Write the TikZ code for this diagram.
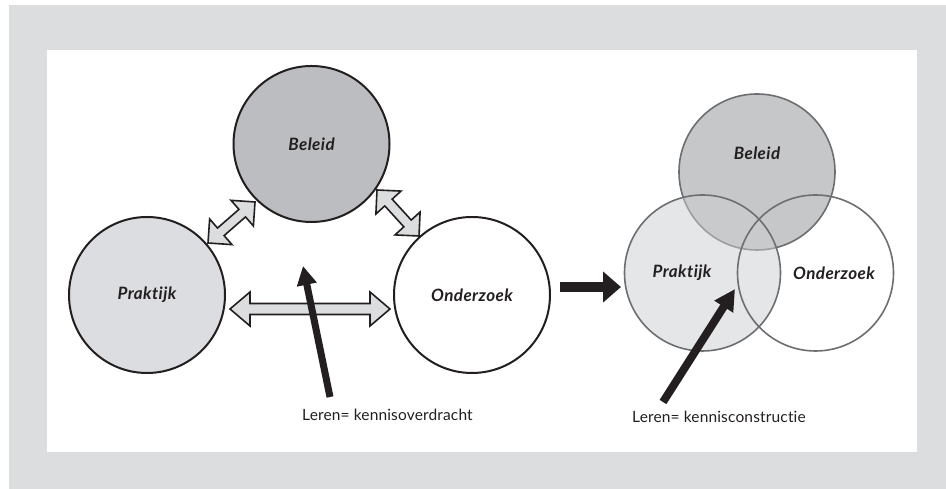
\documentclass[tikz,border=0pt]{standalone}
\usepackage{fontspec}
\setmainfont{Lato}[Ligatures=CommonOff]
\usetikzlibrary{arrows.meta}
\definecolor{panelgrey}{HTML}{DCDDDF}
\definecolor{ink}{HTML}{231F20}
\definecolor{beleidfill}{HTML}{BCBDC0}
\definecolor{praktijkfill}{HTML}{DCDDE0}
\definecolor{arrowfill}{HTML}{DCDDDF}
\definecolor{vennline}{HTML}{6D6E71}
\definecolor{vennbeleid}{HTML}{C6C7C9}
\definecolor{vennpraktijk}{HTML}{CDCED0}
\tikzset{
  ring/.style={circle, draw=ink, line width=2pt, minimum size=156pt, inner sep=0pt},
  vennring/.style={circle, draw=vennline, line width=1.6pt, minimum size=156pt, inner sep=0pt},
  circlabel/.style={font=\fontsize{17}{20}\selectfont\bfseries\itshape\addfontfeatures{LetterSpace=2.5}, text=ink, inner sep=0pt},
  caption/.style={font=\fontsize{15.5}{18}\selectfont\addfontfeatures{LetterSpace=1}, text=ink, inner sep=0pt, anchor=west},
  blackarrow/.style={draw=ink, line width=7pt, -{Triangle[length=19pt,width=19pt]}},
  arrowbox/.style={draw=ink, fill=arrowfill, line width=1.6pt, line join=miter},
  pics/dblarrow/.style n args={4}{code={
    % #1 length, #2 head length, #3 head half width, #4 shaft half width
    \draw[arrowbox] (0,0) -- (#2,#3) -- (#2,#4) -- (#1-#2,#4) -- (#1-#2,#3) -- (#1,0)
      -- (#1-#2,-#3) -- (#1-#2,-#4) -- (#2,-#4) -- (#2,-#3) -- cycle;
  }}
}
\begin{document}
\begin{tikzpicture}[x=1pt,y=1pt]
\useasboundingbox (0,0) rectangle (946,489);
% frame
\fill[panelgrey] (9,0) rectangle (946,484);
\fill[white] (47,37) rectangle (917,439);

% left: three separate circles
\node[ring, fill=beleidfill] (beleid) at (311.5,345) {};
\node[ring, fill=praktijkfill] (praktijk) at (147,194) {};
\node[ring, fill=white] (onderzoek) at (472,194) {};
\node[circlabel] at (beleid) {Beleid};
\node[circlabel] at (praktijk) {Praktijk};
\node[circlabel] at (onderzoek) {Onderzoek};

% exchange arrows between the circles
\pic[rotate=41.1] at (208,246) {dblarrow={62.4}{17}{17}{5}};
\pic[rotate=-47.6] at (377,299) {dblarrow={62.3}{17}{17}{5}};
\pic at (230,180) {dblarrow={160}{20}{17}{5.5}};

% transfer arrow and caption
\coordinate (tailA) at (330,92);
\coordinate (tipA) at (303,223);
\draw[blackarrow] (tailA) -- (tipA);
\node[caption] (transfer) at (302,74) {Leren= kennisoverdracht};

% step to the right-hand model
\coordinate (stepfrom) at (560,202);
\coordinate (stepto) at (621,202);
\draw[draw=ink, line width=10pt, -{Triangle[length=18pt,width=30pt]}] (stepfrom) -- (stepto);

% right: overlapping circles
\node[vennring, fill=vennbeleid] (vbeleid) at (757,317) {};
\fill[vennpraktijk, fill opacity=0.5] (702.5,216) circle[radius=78pt];
\node[vennring] (vpraktijk) at (702.5,216) {};
\node[vennring] (vonderzoek) at (815.5,216) {};
\node[circlabel] at (757,336) {Beleid};
\node[circlabel] at (682,216) {Praktijk};
\node[circlabel] at (834,216) {Onderzoek};

% construction arrow and caption
\coordinate (tailB) at (663,87);
\coordinate (tipB) at (735,200);
\draw[blackarrow, line width=8pt, -{Triangle[length=21pt,width=21pt]}] (tailB) -- (tipB);
\node[caption] (construct) at (632,72) {Leren= kennisconstructie};
\end{tikzpicture}
\end{document}
